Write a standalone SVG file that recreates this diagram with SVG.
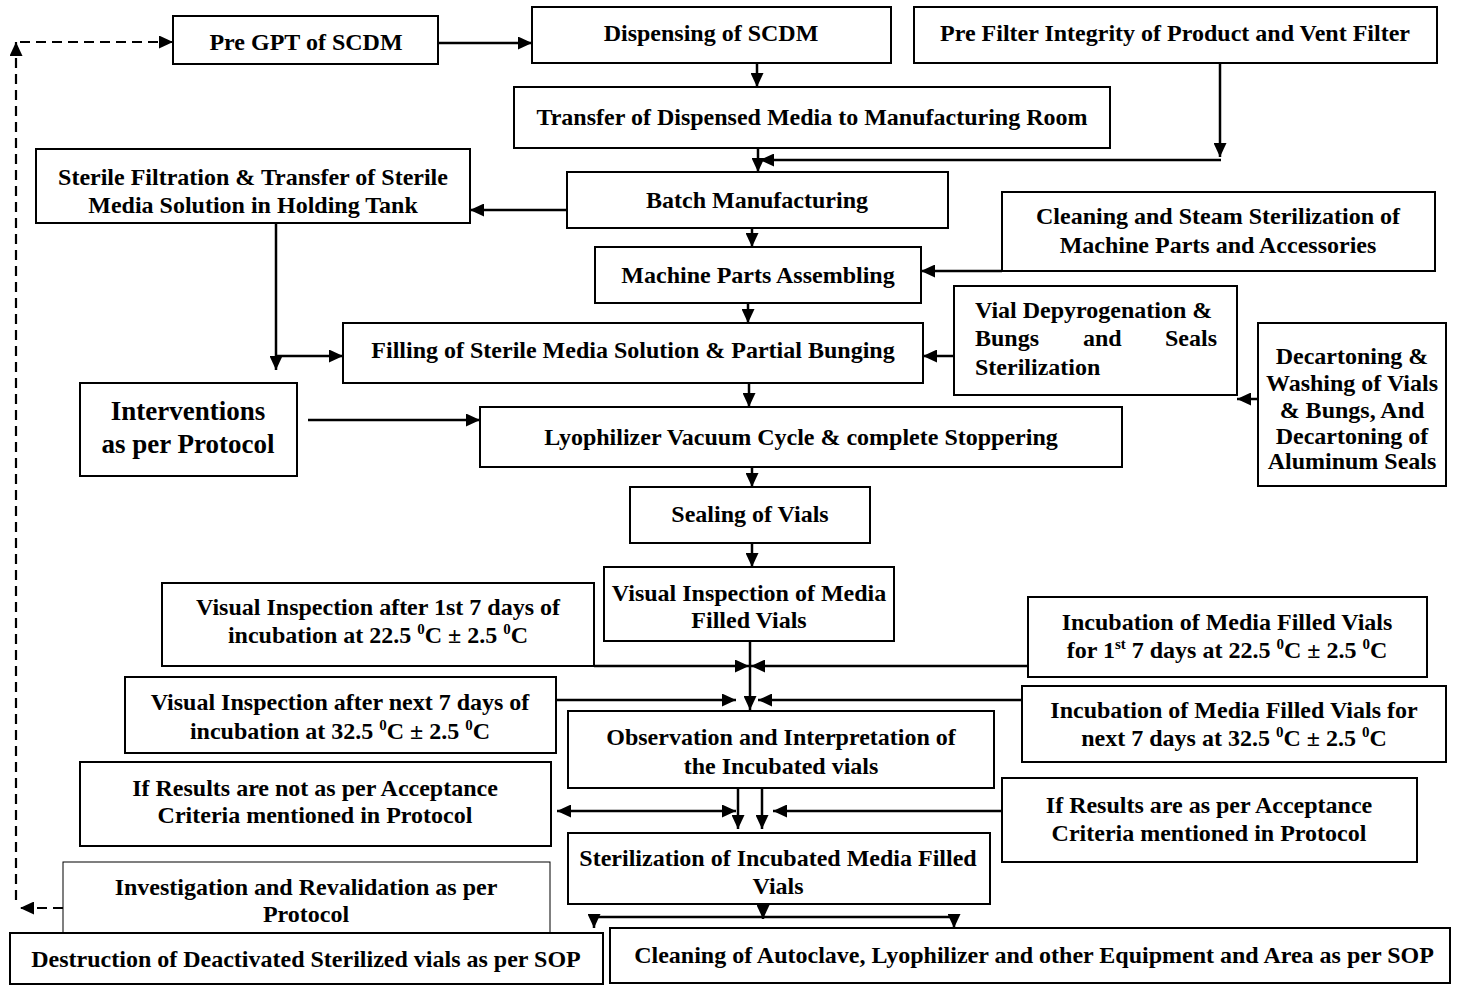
<svg xmlns="http://www.w3.org/2000/svg" width="1457" height="985" viewBox="0 0 1457 985">
  <defs>
    <style>
      .box { fill: #fff; stroke: #000; stroke-width: 2; }
      .thin { fill: #fff; stroke: #000; stroke-width: 1; }
      .t { font-family: "Liberation Serif", "Times New Roman", serif; font-weight: bold; font-size: 24px; fill: #000; text-anchor: middle; }
      .tl { text-anchor: start; }
      .big { font-size: 27px; }
      .sup { font-size: 15px; }
      .ln { fill: none; stroke: #000; stroke-width: 2.5; }
      .arr { marker-end: url(#ah); }
      .dash { fill: none; stroke: #000; stroke-width: 2.2; stroke-dasharray: 10 6; }
    </style>
    <marker id="ah" viewBox="0 0 14 13" refX="14" refY="6.5" markerWidth="14" markerHeight="13" markerUnits="userSpaceOnUse" orient="auto-start-reverse">
      <path d="M0,0 L14,6.5 L0,13 z" fill="#000"/>
    </marker>
  </defs>

  <rect width="1457" height="985" fill="#fff"/>

  <!-- connectors -->
  <g id="connectors">
    <path class="ln arr" d="M438,43 H532"/>
    <path class="dash" d="M63,908 H20" marker-end="url(#ah)"/>
    <path class="dash" d="M16,900 V42" marker-end="url(#ah)"/>
    <path class="dash" d="M20,42 H173" marker-end="url(#ah)"/>
    <path class="ln arr" d="M757,63 V87"/>
    <path class="ln arr" d="M1220,63 V157"/>
    <path class="ln arr" d="M1221,160 H760"/>
    <path class="ln arr" d="M758,148 V172"/>
    <path class="ln arr" d="M567,210 H470"/>
    <path class="ln arr" d="M752,228 V247"/>
    <path class="ln arr" d="M1002,271 H921"/>
    <path class="ln arr" d="M748,303 V323"/>
    <path class="ln arr" d="M276,223 V370"/>
    <path class="ln arr" d="M276,356 H343"/>
    <path class="ln arr" d="M954,356 H923"/>
    <path class="ln arr" d="M1258,399 H1237"/>
    <path class="ln arr" d="M749,383 V407"/>
    <path class="ln arr" d="M308,420 H480"/>
    <path class="ln arr" d="M752,467 V487"/>
    <path class="ln arr" d="M752,543 V567"/>
    <path class="ln arr" d="M750,641 V710"/>
    <path class="ln arr" d="M594,666 H749"/>
    <path class="ln arr" d="M1028,666 H751"/>
    <path class="ln arr" d="M556,700 H736"/>
    <path class="ln arr" d="M1022,700 H758"/>
    <path class="ln arr" d="M738,788 V829"/>
    <path class="ln arr" d="M762,788 V829"/>
    <path class="ln" d="M557,811 H736" marker-start="url(#ah)" marker-end="url(#ah)"/>
    <path class="ln arr" d="M1003,811 H773"/>
    <path class="ln arr" d="M763,904 V919"/>
    <path class="ln" d="M594,917 H954"/>
    <path class="ln arr" d="M594,916 V928"/>
    <path class="ln arr" d="M954,916 V928"/>
  </g>

  <g id="pre-gpt">
    <rect class="box" x="173" y="16" width="265" height="48"/>
    <text class="t" x="306" y="50">Pre GPT of SCDM</text>
  </g>

  <g id="dispensing">
    <rect class="box" x="532" y="7" width="359" height="56"/>
    <text class="t" x="711" y="41">Dispensing of SCDM</text>
  </g>

  <g id="pre-filter">
    <rect class="box" x="914" y="7" width="523" height="56"/>
    <text class="t" x="1175" y="41">Pre Filter Integrity of Product and Vent Filter</text>
  </g>

  <g id="transfer">
    <rect class="box" x="514" y="87" width="596" height="61"/>
    <text class="t" x="812" y="125">Transfer of Dispensed Media to Manufacturing Room</text>
  </g>

  <g id="sterile-filtration">
    <rect class="box" x="36" y="149" width="434" height="74"/>
    <text class="t" x="253" y="185">Sterile Filtration &amp; Transfer of Sterile</text>
    <text class="t" x="253" y="213">Media Solution in Holding Tank</text>
  </g>

  <g id="batch">
    <rect class="box" x="567" y="172" width="381" height="56"/>
    <text class="t" x="757" y="208">Batch Manufacturing</text>
  </g>

  <g id="cleaning-steam">
    <rect class="box" x="1002" y="192" width="433" height="79"/>
    <text class="t" x="1218" y="224">Cleaning and Steam Sterilization of</text>
    <text class="t" x="1218" y="253">Machine Parts and Accessories</text>
  </g>

  <g id="machine-parts">
    <rect class="box" x="595" y="247" width="326" height="56"/>
    <text class="t" x="758" y="283">Machine Parts Assembling</text>
  </g>

  <g id="vial-depyrogenation">
    <rect class="box" x="954" y="286" width="283" height="109"/>
    <text class="t tl" x="975" y="318">Vial Depyrogenation &amp;</text>
    <text class="t tl" y="346"><tspan x="975">Bungs</tspan><tspan x="1083">and</tspan><tspan x="1165">Seals</tspan></text>
    <text class="t tl" x="975" y="375">Sterilization</text>
  </g>

  <g id="decartoning">
    <rect class="box" x="1258" y="323" width="188" height="163"/>
    <text class="t" x="1352" y="364">Decartoning &amp;</text>
    <text class="t" x="1352" y="391">Washing of Vials</text>
    <text class="t" x="1352" y="418">&amp; Bungs, And</text>
    <text class="t" x="1352" y="444">Decartoning of</text>
    <text class="t" x="1352" y="469">Aluminum Seals</text>
  </g>

  <g id="filling">
    <rect class="box" x="343" y="323" width="580" height="60"/>
    <text class="t" x="633" y="358">Filling of Sterile Media Solution &amp; Partial Bunging</text>
  </g>

  <g id="interventions">
    <rect class="box" x="80" y="383" width="217" height="93"/>
    <text class="t big" x="188" y="420">Interventions</text>
    <text class="t big" x="188" y="453">as per Protocol</text>
  </g>

  <g id="lyophilizer">
    <rect class="box" x="480" y="407" width="642" height="60"/>
    <text class="t" x="801" y="445">Lyophilizer Vacuum Cycle &amp; complete Stoppering</text>
  </g>

  <g id="sealing">
    <rect class="box" x="630" y="487" width="240" height="56"/>
    <text class="t" x="750" y="522">Sealing of Vials</text>
  </g>

  <g id="visual-inspection">
    <rect class="box" x="604" y="567" width="290" height="74"/>
    <text class="t" x="749" y="601">Visual Inspection of Media</text>
    <text class="t" x="749" y="628">Filled Vials</text>
  </g>

  <g id="vi-first-week">
    <rect class="box" x="162" y="583" width="432" height="83"/>
    <text class="t" x="378" y="615">Visual Inspection after 1st 7 days of</text>
    <text class="t" x="378" y="643">incubation at 22.5 <tspan class="sup" dy="-9">0</tspan><tspan dy="9">C ± 2.5 </tspan><tspan class="sup" dy="-9">0</tspan><tspan dy="9">C</tspan></text>
  </g>

  <g id="incubation-first-week">
    <rect class="box" x="1028" y="597" width="399" height="80"/>
    <text class="t" x="1227" y="630">Incubation of Media Filled Vials</text>
    <text class="t" x="1227" y="658">for 1<tspan class="sup" dy="-9">st</tspan><tspan dy="9"> 7 days at 22.5 </tspan><tspan class="sup" dy="-9">0</tspan><tspan dy="9">C ± 2.5 </tspan><tspan class="sup" dy="-9">0</tspan><tspan dy="9">C</tspan></text>
  </g>

  <g id="vi-next-week">
    <rect class="box" x="125" y="677" width="431" height="76"/>
    <text class="t" x="340" y="710">Visual Inspection after next 7 days of</text>
    <text class="t" x="340" y="739">incubation at 32.5 <tspan class="sup" dy="-9">0</tspan><tspan dy="9">C ± 2.5 </tspan><tspan class="sup" dy="-9">0</tspan><tspan dy="9">C</tspan></text>
  </g>

  <g id="incubation-next-week">
    <rect class="box" x="1022" y="686" width="424" height="76"/>
    <text class="t" x="1234" y="718">Incubation of Media Filled Vials for</text>
    <text class="t" x="1234" y="746">next 7 days at 32.5 <tspan class="sup" dy="-9">0</tspan><tspan dy="9">C ± 2.5 </tspan><tspan class="sup" dy="-9">0</tspan><tspan dy="9">C</tspan></text>
  </g>

  <g id="observation">
    <rect class="box" x="568" y="711" width="426" height="77"/>
    <text class="t" x="781" y="745">Observation and Interpretation of</text>
    <text class="t" x="781" y="774">the Incubated vials</text>
  </g>

  <g id="results-fail">
    <rect class="box" x="80" y="762" width="471" height="84"/>
    <text class="t" x="315" y="796">If Results are not as per Acceptance</text>
    <text class="t" x="315" y="823">Criteria mentioned in Protocol</text>
  </g>

  <g id="results-pass">
    <rect class="box" x="1002" y="778" width="415" height="84"/>
    <text class="t" x="1209" y="813">If Results are as per Acceptance</text>
    <text class="t" x="1209" y="841">Criteria mentioned in Protocol</text>
  </g>

  <g id="sterilization">
    <rect class="box" x="568" y="833" width="422" height="71"/>
    <text class="t" x="778" y="866">Sterilization of Incubated Media Filled</text>
    <text class="t" x="778" y="894">Vials</text>
  </g>

  <g id="investigation">
    <rect class="thin" x="63" y="862" width="487" height="71"/>
    <text class="t" x="306" y="895">Investigation and Revalidation as per</text>
    <text class="t" x="306" y="922">Protocol</text>
  </g>

  <g id="destruction">
    <rect class="box" x="10" y="933" width="593" height="51"/>
    <text class="t" x="306" y="967">Destruction of Deactivated Sterilized vials as per SOP</text>
  </g>

  <g id="equipment-cleaning">
    <rect class="box" x="610" y="928" width="840" height="55"/>
    <text class="t" x="1034" y="963">Cleaning of Autoclave, Lyophilizer and other Equipment and Area as per SOP</text>
  </g>
</svg>
